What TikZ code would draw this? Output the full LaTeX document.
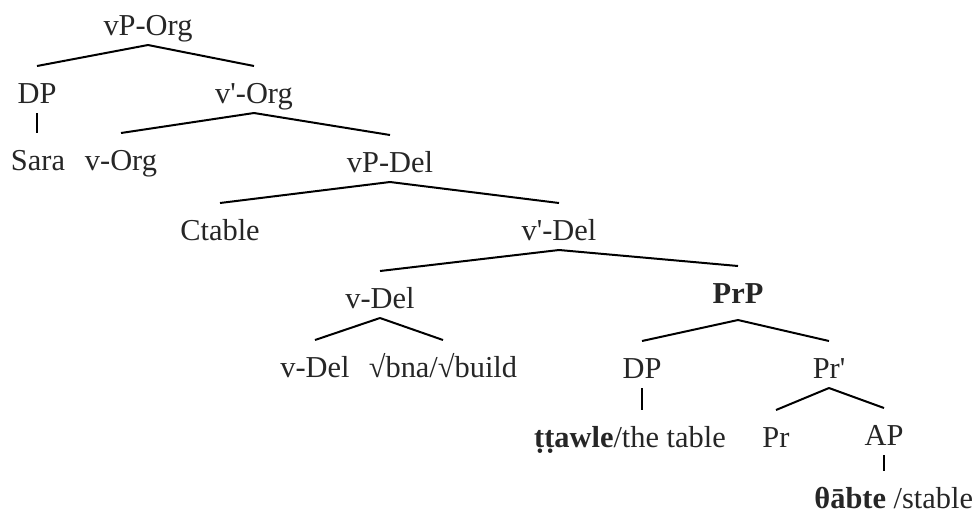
\documentclass[tikz,border=0pt]{standalone}
\usepackage{fontspec}
\setmainfont{Liberation Serif}
\begin{document}
\begin{tikzpicture}[x=0.5pt, y=-0.5pt, line width=1pt,
    lbl/.style={anchor=base, inner sep=0pt, text height=18pt, text depth=4.5pt,
                text=black!85, font=\fontsize{15.2}{18}\selectfont}]
    \useasboundingbox (0,0) rectangle (975,521);

    % 1. vP-Org 层
    \node[lbl] (vporg) at (148,35) {vP-Org};
    \node[lbl] (dpa) at (37,103) {DP};
    \node[lbl] (vbarorg) at (254,103) {v\textquotesingle-Org};
    \node[lbl] (sara) at (38,170) {Sara};
    \node[lbl] (vorg) at (121,170) {v-Org};

    % 2. vP-Del 层
    \node[lbl] (vpdel) at (390,172) {vP-Del};
    \node[lbl] (ctable) at (220,240) {Ctable};
    \node[lbl] (vbardel) at (559,240) {v\textquotesingle-Del};
    \node[lbl] (vdel) at (380,308) {v-Del};
    \node[lbl, text depth=8pt] (prp) at (738,303) {\textbf{PrP}};
    \node[lbl] (vdelb) at (315,377) {v-Del};
    \node[lbl] (root) at (443,377) {√bna/√build};

    % 3. PrP 层
    \node[lbl] (dpb) at (642,378) {DP};
    \node[lbl] (prbar) at (829,378) {Pr\textquotesingle};
    \node[lbl] (ttawle) at (630,447) {\textbf{ṭṭawle}/the table};
    \node[lbl] (pr) at (776,447) {Pr};
    \node[lbl] (ap) at (884,445) {AP};
    \node[lbl, anchor=base east] (thabte) at (974,508) {\textbf{θābte} /stable};

    % 4. 树枝
    \draw (vporg.south) -- (dpa.north);
    \draw (vporg.south) -- (vbarorg.north);
    \draw (dpa.south) -- (dpa.south |- sara.north);
    \draw (vbarorg.south) -- (vorg.north);
    \draw (vbarorg.south) -- (vpdel.north);
    \draw (vpdel.south) -- (ctable.north);
    \draw (vpdel.south) -- (vbardel.north);
    \draw (vbardel.south) -- (vdel.north);
    \draw (vbardel.south) -- (prp.north);
    \draw (vdel.south) -- (vdelb.north);
    \draw (vdel.south) -- (root.north);
    \draw (prp.south) -- (dpb.north);
    \draw (prp.south) -- (prbar.north);
    \draw (dpb.south) -- (dpb.south |- ttawle.north);
    \draw (prbar.south) -- (pr.north);
    \draw (prbar.south) -- (ap.north);
    \draw (ap.south) -- (ap.south |- thabte.north);
\end{tikzpicture}
\end{document}
